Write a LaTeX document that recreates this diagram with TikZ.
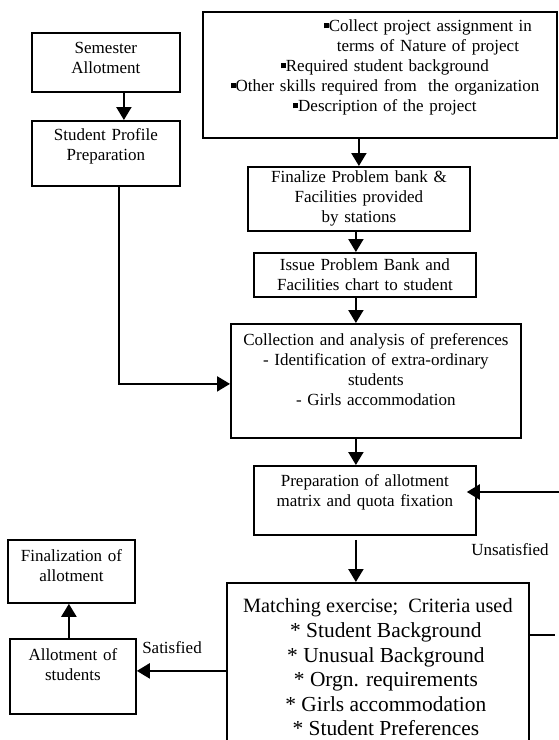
\documentclass[tikz,border=0pt]{standalone}
\usepackage{fontspec}
\setmainfont{Liberation Serif}
\usetikzlibrary{arrows.meta}
\newcommand{\sqbul}{\rule[3.5pt]{5pt}{5pt}}

\begin{document}
\begin{tikzpicture}[x=1pt, y=-1pt, font=\fontsize{17}{20}\selectfont,
  box/.style={draw, line width=1.8pt, anchor=north west, align=center, inner sep=2pt},
  lowpad/.style={execute at end node={\endgraf\vspace*{#1}}},
  arr/.style={line width=2.2pt, -{Triangle[width=15pt,length=13pt]}}]
  \useasboundingbox (0,0) rectangle (559,740);
  % left column
  \node[box, minimum width=148pt, minimum height=59pt, text width=140pt, lowpad=9pt] (sem) at (31,32)
       {Semester\\ Allotment};
  \node[box, minimum width=148pt, minimum height=65pt, text width=140pt, lowpad=14pt] (prof) at (31,120)
       {Student Profile\\ Preparation};
  % main column
  \node[box, minimum width=354pt, minimum height=126pt, text width=346pt, lowpad=14pt] (tasks) at (202,11)
       {\hspace*{96pt}\sqbul Collect project assignment in\\
        \hspace*{96pt}terms of Nature of project\\
        \hspace*{10pt}\sqbul Required student background\\
        \hspace*{10pt}\sqbul Other skills required from~ the organization\\
        \hspace*{10pt}\sqbul Description of the project};
  \node[box, minimum width=222pt, minimum height=64pt, text width=214pt] (fin) at (247,166)
       {Finalize Problem bank \&\\ Facilities provided\\ by stations};
  \node[box, minimum width=222pt, minimum height=44pt, text width=214pt] (iss) at (253,252)
       {Issue Problem Bank and\\ Facilities chart to student};
  \node[box, minimum width=290pt, minimum height=114pt, text width=282pt, lowpad=22pt] (coll) at (230,323)
       {Collection and analysis of preferences\\ - Identification of extra-ordinary\\ students\\ - Girls accommodation};
  \node[box, minimum width=222pt, minimum height=69pt, text width=214pt, lowpad=17pt] (prep) at (253,465)
       {Preparation of allotment\\ matrix and quota fixation};
  \node[box, minimum width=302pt, minimum height=169pt,
        font=\fontsize{21.4}{24.6}\selectfont] (match) at (226,582)
       {{\fontsize{20.3}{24.6}\selectfont Matching exercise;~ Criteria used}\\
        \hspace*{16pt}* Student Background\\
        \hspace*{16pt}* Unusual Background\\
        \hspace*{16pt}* Orgn. requirements\\
        \hspace*{16pt}* Girls accommodation\\
        \hspace*{16pt}* Student Preferences};
  % bottom left
  \node[box, minimum width=127pt, minimum height=63pt, text width=119pt, lowpad=12pt] (finz) at (7,539)
       {Finalization of\\ allotment};
  \node[box, minimum width=126pt, minimum height=75pt, text width=118pt, lowpad=24pt] (allot) at (9,638)
       {Allotment of\\ students};
  \node (unsat) at (510,550) {Unsatisfied};
  \node (sat) at (172,648) {Satisfied};
  \coordinate (loopend) at (555,635);
  \coordinate (loopstart) at (565,492);

  % connectors
  \draw[arr] ([xshift=18pt]sem.south) -- ([xshift=18pt]prof.north);
  \draw[arr] ([xshift=13pt]prof.south) |- ([yshift=-3pt]coll.west);
  \draw[arr] (fin.north |- tasks.south) -- (fin.north);
  \draw[arr] ([xshift=-3pt]fin.south) -- ([xshift=-3pt]fin.south |- iss.north);
  \draw[arr] ([xshift=-9pt]iss.south) -- ([xshift=-9pt]iss.south |- coll.north);
  \draw[arr] ([xshift=-20pt]coll.south) -- ([xshift=-20pt]coll.south |- prep.north);
  \draw[arr] ([xshift=-9pt,yshift=-4pt]prep.south) -- ([xshift=-9pt]prep.south |- match.north);
  \draw[line width=2pt] (match.east |- loopend) -- (loopend);
  \draw[arr, shorten >=-10pt] (loopstart) -- (loopstart -| prep.east);
  \draw[arr] ([yshift=-3.5pt]match.west) -- ([yshift=-3.5pt]match.west -| allot.east);
  \draw[arr] ([xshift=-4pt]allot.north) -- ([xshift=-4pt]allot.north |- finz.south);
\end{tikzpicture}
\end{document}
